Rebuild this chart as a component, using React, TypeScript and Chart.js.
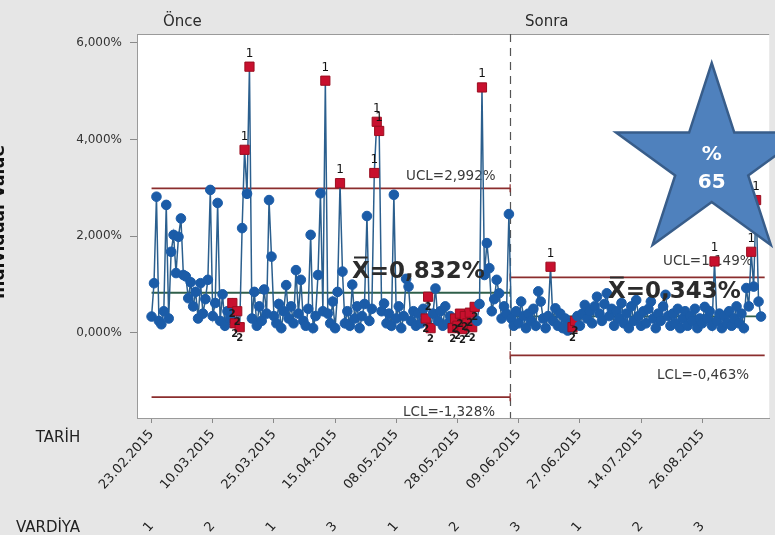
import React, { useEffect, useRef } from 'react';
import { Chart, registerables } from 'chart.js';

Chart.register(...registerables);

// ---------------- data ----------------
const onceValues = [
  0.34, 1.03, 2.82, 0.25, 0.18, 0.45, 2.65, 0.30, 1.68, 2.03,
  1.24, 1.99, 2.37, 1.20, 1.17, 0.72, 1.05, 0.55, 0.85, 0.30,
  1.03, 0.40, 0.70, 1.10, 2.96, 0.35, 0.62, 2.69, 0.25, 0.80,
  0.15, 0.45, 0.30, 0.62, 0.20, 0.45, 0.12, 2.17, 3.79, 2.88,
  5.51, 0.30, 0.85, 0.15, 0.55, 0.25, 0.90, 0.40, 2.75, 1.58,
  0.35, 0.20, 0.60, 0.10, 0.45, 0.99, 0.30, 0.55, 0.20, 1.30,
  0.40, 1.10, 0.25, 0.15, 0.50, 2.03, 0.10, 0.35, 1.20, 2.89,
  0.45, 5.22, 0.40, 0.20, 0.65, 0.10, 0.85, 3.10, 1.27, 0.20,
  0.45, 0.15, 1.00, 0.30, 0.55, 0.10, 0.35, 0.60, 2.42, 0.25,
  0.50, 3.31, 4.37, 4.18, 0.45, 0.61, 0.20, 0.40, 0.15, 2.86,
  0.30, 0.55, 0.10, 0.35, 1.12, 0.96, 0.25, 0.45, 0.15, 0.40,
  0.20, 0.50, 0.30, 0.75, 0.10, 0.40, 0.92, 0.25, 0.45, 0.15,
  0.55, 0.20, 0.35, 0.10, 0.30, 0.15, 0.40, 0.08, 0.35, 0.20,
  0.42, 0.12, 0.54, 0.25, 0.60, 5.08, 1.20, 1.86, 1.34, 0.45,
  0.70, 1.10, 0.82, 0.30, 0.55, 0.40, 2.46,
];

const sonraValues = [
  0.30, 0.15, 0.45, 0.20, 0.65, 0.35, 0.10, 0.40, 0.25, 0.50,
  0.15, 0.86, 0.65, 0.30, 0.10, 0.35, 1.37, 0.25, 0.51, 0.15,
  0.40, 0.10, 0.30, 0.05, 0.20, 0.12, 0.25, 0.35, 0.15, 0.40,
  0.58, 0.30, 0.45, 0.20, 0.55, 0.75, 0.40, 0.25, 0.60, 0.82,
  0.35, 0.50, 0.15, 0.45, 0.30, 0.62, 0.20, 0.40, 0.10, 0.55,
  0.25, 0.68, 0.35, 0.15, 0.45, 0.20, 0.50, 0.65, 0.30, 0.10,
  0.40, 0.25, 0.55, 0.79, 0.35, 0.15, 0.40, 0.20, 0.50, 0.10,
  0.30, 0.45, 0.15, 0.35, 0.25, 0.50, 0.10, 0.30, 0.20, 0.54,
  0.30, 0.45, 0.15, 1.48, 0.25, 0.40, 0.10, 0.35, 0.20, 0.45,
  0.15, 0.30, 0.55, 0.20, 0.40, 0.10, 0.93, 0.55, 1.68, 0.96,
  2.75, 0.65, 0.34,
];

const test1Fail = [38, 40, 71, 77, 91, 92, 93, 135, 163, 230, 245, 247];
const test2Fail = [33, 34, 35, 36, 112, 113, 114, 123, 124, 125, 126, 127, 128, 129, 130, 131, 132, 172, 173];

const tickIndices = [0, 25, 50, 75, 100, 125, 150, 175, 200, 225];
const dateLabels = [
  '23.02.2015', '10.03.2015', '25.03.2015', '15.04.2015', '08.05.2015',
  '28.05.2015', '09.06.2015', '27.06.2015', '14.07.2015', '26.08.2015',
];
const shiftLabels = ['1', '2', '1', '3', '1', '2', '3', '1', '2', '3'];
const yTicks = [0, 2, 4, 6];

const stageNames = ['Önce', 'Sonra'];
const stageFrom = [0, 146.5];
const stageTo = [146.5, 250.5];
const stageMeans = [0.832, 0.343];
const stageUCL = [2.992, 1.149];
const stageLCL = [-1.328, -0.463];
const starLines = ['%', '65'];

// ---------------- config constants ----------------
const X_MIN = -5.95;
const X_MAX = 252.35;
const Y_MIN = -1.759;
const Y_MAX = 6.186;
const FONT = '"DejaVu Sans", "Liberation Sans", sans-serif';

const allValues = [...onceValues, ...sonraValues];
const t1 = new Set(test1Fail);
const t2 = new Set(test2Fail);
const isRed = (i: number) => t1.has(i) || t2.has(i);
const fmtPct = (v: number) => v.toFixed(3).replace('.', ',') + '%';

function drawXBar(ctx: CanvasRenderingContext2D, text: string, x: number, y: number) {
  ctx.fillText('X', x, y);
  const w = ctx.measureText('X').width;
  ctx.save();
  ctx.strokeStyle = ctx.fillStyle as string;
  ctx.lineWidth = 2;
  ctx.beginPath();
  ctx.moveTo(x + 2, y - 20.5);
  ctx.lineTo(x + w - 2, y - 20.5);
  ctx.stroke();
  ctx.restore();
  ctx.fillText(text, x + w, y);
}

const controlPlugin = {
  id: 'controlPlugin',
  beforeDraw(chart: any) {
    const { ctx, chartArea: a, width, height } = chart;
    ctx.save();
    ctx.fillStyle = '#e6e6e6';
    ctx.fillRect(0, 0, width, height);
    ctx.fillStyle = '#ffffff';
    ctx.fillRect(a.left, a.top, a.right - a.left, a.bottom - a.top);
    ctx.strokeStyle = '#9a9a9a';
    ctx.lineWidth = 1;
    ctx.beginPath();
    ctx.moveTo(a.left, a.top + 0.5);
    ctx.lineTo(a.right, a.top + 0.5);
    ctx.stroke();
    ctx.restore();
  },
  beforeDatasetsDraw(chart: any) {
    const { ctx, chartArea: a } = chart;
    const xs = chart.scales.x;
    const ys = chart.scales.y;
    ctx.save();
    const sx = Math.round(xs.getPixelForValue(stageFrom[1])) + 0.5;
    ctx.strokeStyle = '#555555';
    ctx.lineWidth = 1.2;
    ctx.setLineDash([8, 6]);
    ctx.beginPath();
    ctx.moveTo(sx, a.top);
    ctx.lineTo(sx, a.bottom);
    ctx.stroke();
    ctx.setLineDash([]);

    for (let s = 0; s < stageNames.length; s++) {
      const x0 = xs.getPixelForValue(stageFrom[s]);
      const x1 = xs.getPixelForValue(stageTo[s]);
      const lines = [
        { v: stageUCL[s], c: '#8b2d2d' },
        { v: stageMeans[s], c: '#2f5f4a' },
        { v: stageLCL[s], c: '#8b2d2d' },
      ];
      for (const ln of lines) {
        const py = ys.getPixelForValue(ln.v);
        ctx.strokeStyle = ln.c;
        ctx.lineWidth = 1.8;
        ctx.beginPath();
        ctx.moveTo(x0, py);
        ctx.lineTo(x1, py);
        ctx.stroke();
        ctx.lineWidth = 1.2;
        ctx.beginPath();
        const tx = s === 0 ? x1 : x0;
        ctx.moveTo(tx, py - 4);
        ctx.lineTo(tx, py + 4);
        ctx.stroke();
      }
    }

    ctx.fillStyle = '#3a3a3a';
    ctx.font = `13.5px ${FONT}`;
    ctx.textAlign = 'left';
    ctx.textBaseline = 'alphabetic';
    ctx.fillText('UCL=' + fmtPct(stageUCL[0]), 406, ys.getPixelForValue(stageUCL[0]) - 8);
    ctx.fillText('LCL=' + fmtPct(stageLCL[0]), 403, ys.getPixelForValue(stageLCL[0]) + 19);
    ctx.fillText('UCL=' + fmtPct(stageUCL[1]), 663, ys.getPixelForValue(stageUCL[1]) - 12);
    ctx.fillText('LCL=' + fmtPct(stageLCL[1]), 657, ys.getPixelForValue(stageLCL[1]) + 24);
    ctx.restore();
  },
  afterDatasetsDraw(chart: any) {
    const { ctx } = chart;
    const xs = chart.scales.x;
    const ys = chart.scales.y;
    ctx.save();
    ctx.fillStyle = '#111111';
    ctx.textAlign = 'center';
    ctx.font = `12px ${FONT}`;
    ctx.textBaseline = 'alphabetic';
    for (const i of test1Fail) {
      const px = xs.getPixelForValue(i);
      const py = ys.getPixelForValue(allValues[i]);
      ctx.fillText('1', px, py - 10);
    }
    ctx.font = `bold 10px ${FONT}`;
    ctx.textBaseline = 'top';
    ctx.fillStyle = '#1a1a1a';
    for (const i of test2Fail) {
      const px = xs.getPixelForValue(i);
      const py = ys.getPixelForValue(allValues[i]);
      ctx.fillText('2', px, py + 6);
    }
    ctx.fillStyle = '#2b2b2b';
    ctx.font = `bold 23px ${FONT}`;
    ctx.textAlign = 'left';
    ctx.textBaseline = 'alphabetic';
    drawXBar(ctx, '=' + fmtPct(stageMeans[0]), 352, 278);
    drawXBar(ctx, '=' + fmtPct(stageMeans[1]), 608, 298);
    ctx.restore();
  },
  afterDraw(chart: any) {
    const { ctx } = chart;
    ctx.save();
    ctx.fillStyle = '#2a2a2a';
    ctx.font = `15px ${FONT}`;
    ctx.textAlign = 'left';
    ctx.textBaseline = 'alphabetic';
    ctx.fillText(stageNames[0], 163, 26);
    ctx.fillText(stageNames[1], 525, 26);
    ctx.fillStyle = '#222222';
    ctx.textAlign = 'center';
    ctx.fillText('TARİH', 58, 442);
    ctx.fillText('VARDİYA', 48, 532);
    // y axis title, mostly cut off at the left edge
    ctx.save();
    ctx.translate(4, 222);
    ctx.rotate(-Math.PI / 2);
    ctx.font = `bold 17px ${FONT}`;
    ctx.fillStyle = '#111111';
    ctx.textAlign = 'center';
    ctx.textBaseline = 'alphabetic';
    ctx.fillText('Individual Value', 0, 0);
    ctx.restore();

    // star
    const cx = 711.7, cy = 163.6, R = 100.6, r = 38.4;
    ctx.beginPath();
    for (let k = 0; k < 10; k++) {
      const ang = -Math.PI / 2 + (k * Math.PI) / 5;
      const rad = k % 2 === 0 ? R : r;
      const px = cx + rad * Math.cos(ang);
      const py = cy + rad * Math.sin(ang);
      if (k === 0) ctx.moveTo(px, py); else ctx.lineTo(px, py);
    }
    ctx.closePath();
    ctx.fillStyle = '#4f81bd';
    ctx.fill();
    ctx.strokeStyle = '#385d8a';
    ctx.lineWidth = 2.5;
    ctx.stroke();
    ctx.fillStyle = '#ffffff';
    ctx.font = `bold 20px ${FONT}`;
    ctx.textAlign = 'center';
    ctx.textBaseline = 'middle';
    ctx.fillText(starLines[0], cx, 155);
    ctx.fillText(starLines[1], cx, 183);
    ctx.restore();
  },
};

export default function App() {
  const canvasRef = useRef<HTMLCanvasElement | null>(null);

  useEffect(() => {
    const canvas = canvasRef.current;
    if (!canvas) return;
    const data = allValues.map((v, i) => ({ x: i, y: v }));
    const chart = new Chart(canvas, {
      type: 'line',
      data: {
        datasets: [
          {
            data,
            borderColor: '#2b5f8e',
            borderWidth: 1.5,
            tension: 0,
            xAxisID: 'x',
            yAxisID: 'y',
            pointStyle: (c: any) => (isRed(c.dataIndex) ? 'rect' : 'circle'),
            pointRadius: (c: any) => (isRed(c.dataIndex) ? 6.5 : 4.8),
            pointBackgroundColor: (c: any) => (isRed(c.dataIndex) ? '#c8102e' : '#1b5ca8'),
            pointBorderColor: (c: any) => (isRed(c.dataIndex) ? '#9b0d1f' : '#1b5ca8'),
            pointBorderWidth: 1,
          } as any,
        ],
      },
      options: {
        animation: false,
        responsive: false,
        devicePixelRatio: 1,
        layout: { padding: { top: 34, left: 0, right: 0, bottom: 0 } },
        plugins: { legend: { display: false }, tooltip: { enabled: false }, title: { display: false } },
        scales: {
          x: {
            type: 'linear',
            position: 'bottom',
            weight: 0,
            min: X_MIN,
            max: X_MAX,
            afterBuildTicks: (s: any) => { s.ticks = tickIndices.map((v) => ({ value: v })); },
            afterFit: (s: any) => { s.height = 91; },
            ticks: {
              autoSkip: false,
              minRotation: 48,
              maxRotation: 48,
              padding: 4,
              color: '#222222',
              font: { family: FONT, size: 13 },
              callback: (_v: any, i: number) => dateLabels[i] ?? '',
            },
            grid: { display: true, drawOnChartArea: false, drawTicks: true, tickLength: 5, color: '#8a8a8a' },
            border: { display: true, color: '#9a9a9a' },
          },
          x2: {
            type: 'linear',
            position: 'bottom',
            weight: 1,
            min: X_MIN,
            max: X_MAX,
            afterBuildTicks: (s: any) => { s.ticks = tickIndices.map((v) => ({ value: v })); },
            afterFit: (s: any) => { s.height = 26; },
            ticks: {
              autoSkip: false,
              minRotation: 48,
              maxRotation: 48,
              padding: 10,
              color: '#222222',
              font: { family: FONT, size: 13 },
              callback: (_v: any, i: number) => shiftLabels[i] ?? '',
            },
            grid: { display: false, drawTicks: false },
            border: { display: false },
          },
          y: {
            type: 'linear',
            min: Y_MIN,
            max: Y_MAX,
            afterBuildTicks: (s: any) => { s.ticks = yTicks.map((v) => ({ value: v })); },
            afterFit: (s: any) => { s.width = 137; },
            ticks: {
              color: '#333333',
              font: { family: FONT, size: 12 },
              padding: 8,
              callback: (v: any) => fmtPct(Number(v)),
            },
            grid: { display: true, drawOnChartArea: false, drawTicks: true, tickLength: 7, color: '#8a8a8a' },
            border: { display: true, color: '#9a9a9a' },
          },
        },
      } as any,
      plugins: [controlPlugin],
    });
    return () => chart.destroy();
  }, []);

  return (
    <div style={{ position: 'absolute', left: 0, top: 0, width: 775, height: 535 }}>
      <canvas ref={canvasRef} width={775} height={535} style={{ display: 'block', width: 775, height: 535 }} />
    </div>
  );
}
